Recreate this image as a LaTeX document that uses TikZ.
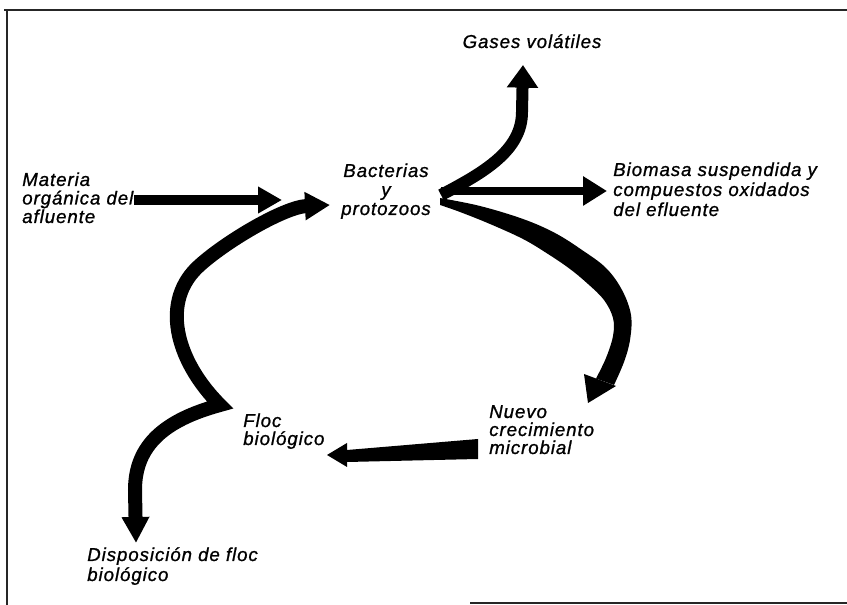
\documentclass[tikz,border=0pt]{standalone}
\usepackage{fontspec}
\setmainfont{Liberation Sans}
\newfontfamily\labelfam{Liberation Sans}[LetterSpace=5,FakeBold=1]
\usetikzlibrary{arrows.meta}

\begin{document}
\begin{tikzpicture}[x=0.75pt,y=-0.75pt,
  lbl/.style={inner sep=0pt, align=left,
    font=\labelfam\itshape\fontsize{14pt}{#1}\selectfont},
  lbl/.default=14pt,
  frame/.style={line width=1.5pt, draw=black!85},
  flow/.style={draw=black, line width=#1},
  band/.style={fill=black},
]
\useasboundingbox (0,0) rectangle (847,605);

% outer frame (top, left, and the piece of the bottom edge)
\draw[frame] (4,10) -- (847,10);
\draw[frame] (7,10) -- (7,605);
\draw[frame] (470,603) -- (847,603);

% labels (anchored on the baseline of their last line)
\node[lbl, anchor=base] (gases) at (532,48) {Gases volátiles};
\node[lbl=13.9pt, anchor=base west] (materia) at (22,223) {Materia\\orgánica del\\afluente};
\node[lbl=14.25pt, align=center, anchor=base] (bact) at (386,215) {Bacterias\\y\\protozoos};
\node[lbl=15pt, anchor=base west] (biomasa) at (613,216) {Biomasa suspendida y\\compuestos oxidados\\del efluente};
\node[lbl=13.5pt, anchor=base west] (nuevo) at (489,454) {Nuevo\\crecimiento\\microbial};
\node[lbl=13.5pt, anchor=base west] (floc) at (243,445) {Floc\\biológico};
\node[lbl=15pt, anchor=base west] (disp) at (87,581) {Disposición de floc\\biológico};

% connector end points and waypoints
\coordinate (J) at (441,195);
\coordinate (mTip) at (282,200);
\coordinate (gBend) at (522,112);
\coordinate (gTip) at (523,65);
\coordinate (bTip) at (607,191);
\coordinate (rTip) at (588,403);
\coordinate (fStart) at (478,449);
\coordinate (fTip) at (327,455);
\coordinate (cusp) at (220,405);
\coordinate (lMid) at (200,265);
\coordinate (lTip) at (330,205);
\coordinate (dBend) at (135,490);
\coordinate (dTip) at (136,543);

% influent organic matter into the reactor
\draw[flow=7.5pt, -{Triangle[length=18pt,width=19pt]}] (materia.east |- mTip) -- (mTip);

% volatile gases
\draw[flow=9pt, -{Triangle[length=17pt,width=22.5pt]}]
  (J) .. controls (485,172) and (522,150) .. (gBend) -- (gTip);

% suspended biomass leaving with the effluent
\draw[flow=6.5pt, -{Triangle[length=18pt,width=21pt]}] (J |- bTip) -- (bTip);

% growth arc: a band that widens from the reactor towards new growth
\fill[band] plot[smooth, tension=0.6] coordinates {(440,198) (480,206) (523,219) (555,233)
    (582,250) (606,268) (622,290) (631,315) (630,340) (624,362) (614,385)}
  -- plot[smooth, tension=0.6] coordinates {(596,378.5) (606,358) (613,336) (613,318)
    (604,300) (588,284) (570,269) (548,254) (523,239) (490,224) (460,212) (440,205)}
  -- cycle;
\fill[band] (584,374) -- (616,386) -- (rTip) -- cycle;

% new growth to biological floc (tapering towards the floc)
\fill[band] (fStart) ++(0,-10) -- ++(0,20) -- (347,462) -- (347,450) -- cycle;
\fill[band] (347,443) -- (347,467) -- (fTip) -- cycle;

% floc: recycled back to the reactor and wasted
\draw[flow=10.5pt, line join=miter,
  {Triangle[length=19.5pt,width=19.5pt]}-{Triangle[length=18.75pt,width=20pt]}]
  (dTip) -- (dBend) .. controls (135,445) and (165,420) .. (cusp)
  .. controls (175,360) and (160,300) .. (lMid)
  .. controls (228,240) and (285,207) .. (lTip);
\end{tikzpicture}
\end{document}
